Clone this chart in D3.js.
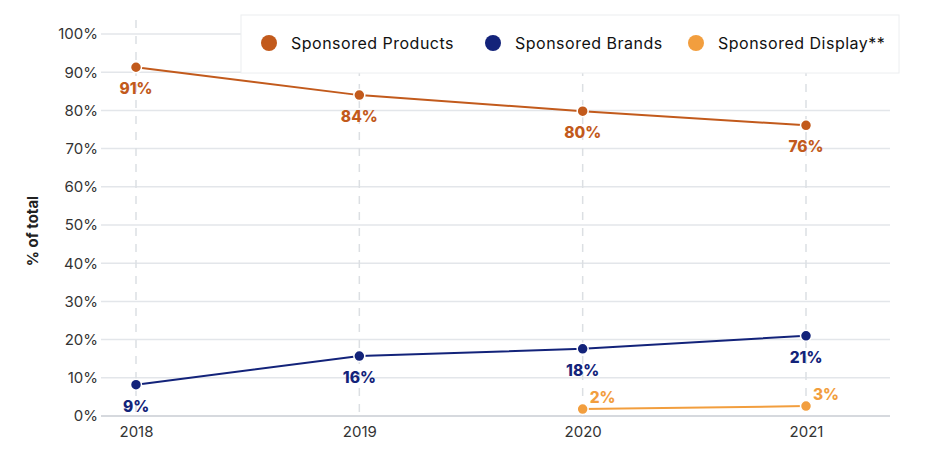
<!DOCTYPE html>
<html><head><meta charset="utf-8">
<script src="https://cdn.jsdelivr.net/npm/d3@7"></script>
<style>body{margin:0;background:#fff;}svg{display:block;font-family:Inter,"Open Sans",sans-serif;}</style>
</head><body><svg id="c" width="937" height="456"></svg>
<script>
const years = ["2018","2019","2020","2021"];
const products = [91.3, 84.0, 79.8, 76.1];
const brands = [8.2, 15.7, 17.6, 21.0];
const display = [null, null, 1.8, 2.6];
const productLabels = ["91%","84%","80%","76%"];
const brandLabels = ["9%","16%","18%","21%"];
const displayLabels = [null, null, "2%","3%"];
const yTicks = [0,10,20,30,40,50,60,70,80,90,100];
const seriesNames = ["Sponsored Products","Sponsored Brands","Sponsored Display**"];
const colors = ["#C25A1C","#13237A","#F29E3E"];

const svg = d3.select("#c");
const x = d3.scalePoint().domain(years).range([136, 806]);
const y = d3.scaleLinear().domain([0,100]).range([416, 34]);

// gridlines
svg.append("g").selectAll("line").data(yTicks).join("line")
  .attr("x1",101).attr("x2",890).attr("y1",d=>y(d)).attr("y2",d=>y(d))
  .attr("stroke",d=>d===0?"#d6d9de":"#e3e6ea").attr("stroke-width",d=>d===0?2:1.5);
// vertical dashed
svg.append("g").selectAll("line").data(years).join("line")
  .attr("x1",d=>x(d)).attr("x2",d=>x(d)).attr("y1",20).attr("y2",416)
  .attr("stroke","#dcdfe3").attr("stroke-width",1.5).attr("stroke-dasharray","8,8");

// y axis labels
const yAxis = d3.axisLeft(y).tickValues(yTicks).tickFormat(d=>d+"%").tickSize(0).tickPadding(0);
const ya = svg.append("g").attr("transform","translate(98,0)").call(yAxis);
ya.select(".domain").remove();
ya.selectAll("text").attr("font-size",15).attr("fill","#333").attr("font-family","Inter,sans-serif");
// x axis labels
const xAxis = d3.axisBottom(x).tickSize(0).tickPadding(0);
const xa = svg.append("g").attr("transform","translate(0,426)").call(xAxis);
xa.select(".domain").remove();
xa.selectAll("text").attr("font-size",15).attr("fill","#333").attr("font-family","Inter,sans-serif");

svg.append("text").attr("transform","translate(38,231) rotate(-90)").attr("text-anchor","middle")
  .attr("font-size",15).attr("font-weight","bold").attr("fill","#222").text("% of total");

// legend box
const lg = svg.append("g");
lg.append("rect").attr("x",241).attr("y",15).attr("width",658).attr("height",58)
  .attr("fill","#fff").attr("stroke","#eceef0").attr("stroke-width",1);
const legendX = [269, 493, 696];
seriesNames.forEach((n,i)=>{
  lg.append("circle").attr("cx",legendX[i]).attr("cy",43).attr("r",8).attr("fill",colors[i]);
  lg.append("text").attr("x",legendX[i]+22).attr("y",48.5).attr("font-size",16)
    .attr("letter-spacing",0.5).attr("fill","#111").text(n);
});

const allSeries = [products, brands, display];
const allLabels = [productLabels, brandLabels, displayLabels];
const line = d3.line().defined(d=>d.v!=null).x(d=>x(d.k)).y(d=>y(d.v));
allSeries.forEach((s,i)=>{
  const pts = years.map((k,j)=>({k,v:s[j],l:allLabels[i][j]})).filter(d=>d.v!=null);
  svg.append("path").datum(pts).attr("d",line).attr("fill","none").attr("stroke",colors[i]).attr("stroke-width",2);
  svg.append("g").selectAll("circle").data(pts).join("circle")
    .attr("cx",d=>x(d.k)).attr("cy",d=>y(d.v)).attr("r",5.5).attr("fill",colors[i])
    .attr("stroke","#fff").attr("stroke-width",1.5);
  svg.append("g").selectAll("text").data(pts).join("text")
    .attr("x",d=>x(d.k)+(i===2?20:0)).attr("y",d=>y(d.v)+(i===2?-6:27))
    .attr("text-anchor","middle")
    .attr("font-size",15.5).attr("font-weight","800").attr("fill",colors[i]).text(d=>d.l);
});
</script></body></html>
